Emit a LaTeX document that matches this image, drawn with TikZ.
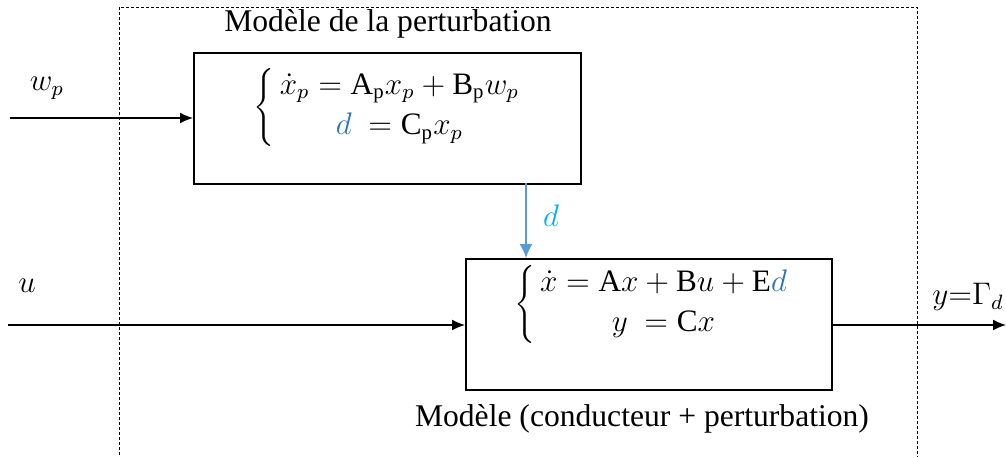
\documentclass[tikz,border=0pt]{standalone}
\usepackage{graphicx}
\usepackage{fontspec}
\setmainfont{Liberation Serif}
\usetikzlibrary{arrows.meta}
\definecolor{dblue}{HTML}{2E75B6}
\definecolor{lblue}{HTML}{00B0F0}
\definecolor{ablue}{HTML}{5B9BD5}
\newcommand{\mybigmath}[1]{\scalebox{2.6}{\fontsize{12}{14}\selectfont #1}}
\tikzset{
  blockbox/.style={draw, line width=1.5pt, minimum width=#1, anchor=north west, inner sep=0},
  sig/.style={line width=1.5pt, -{Latex[length=13pt,width=11pt]}},
  lbl/.style={inner sep=0, font=\fontsize{31.6}{36}\selectfont},
  eq/.style={inner sep=0},
}
\begin{document}
\begin{tikzpicture}[x=1pt,y=-1pt]
\clip (0,0) rectangle (1006,456);
\fill[white] (0,0) rectangle (1006,456);
% outer dashed frame
\draw[line width=1pt, dash pattern=on 3pt off 2pt] (119,470) -- (119,7) -- (917,7) -- (917,470);
% boxes
\node[blockbox=387pt, minimum height=131pt] (pert) at (193,52) {};
\node[blockbox=366pt, minimum height=131pt] (model) at (465,258) {};
% equations
\node[eq] (eqp) at (388,107) {\mybigmath{$\left\{\,\begin{array}{@{}c@{}}\dot{x}_p = \mathrm{A_p}x_p + \mathrm{B_p}w_p\\[1.5pt] \textcolor{dblue}{d}\ = \mathrm{C_p}x_p\end{array}\right.$}};
\node[eq] (eqm) at (652,304) {\mybigmath{$\left\{\,\begin{array}{@{}c@{}}\dot{x} = \mathrm{A}x + \mathrm{B}u + \mathrm{E}\textcolor{dblue}{d}\\[1.5pt] y\ = \mathrm{C}x\end{array}\right.$}};
% titles
\node[lbl] (tp) at (388,24) {Modèle de la perturbation};
\node[lbl] (tm) at (642,419) {Modèle (conducteur + perturbation)};
% input / output
\coordinate (win) at (10,118);
\coordinate (uin) at (8,325);
\coordinate (yout) at (1006,325);
\draw[sig] (win) -- (win -| pert.west);
\draw[sig] (uin) -- (uin -| model.west);
\draw[sig] (model.east |- yout) -- (yout);
\draw[line width=1.5pt, ablue, -{Latex[length=14pt,width=13pt]}] (526,183) -- (526,258);
% labels
\node[eq] (lw) at (47,88) {\mybigmath{$w_p$}};
\node[eq] (lu) at (27,286) {\mybigmath{$u$}};
\node[eq, text=lblue] (ld) at (551,216) {\mybigmath{$d$}};
\node[eq, anchor=east] (ly) at (1004,297) {\mybigmath{$y{=}\Gamma_d$}};
\end{tikzpicture}
\end{document}
